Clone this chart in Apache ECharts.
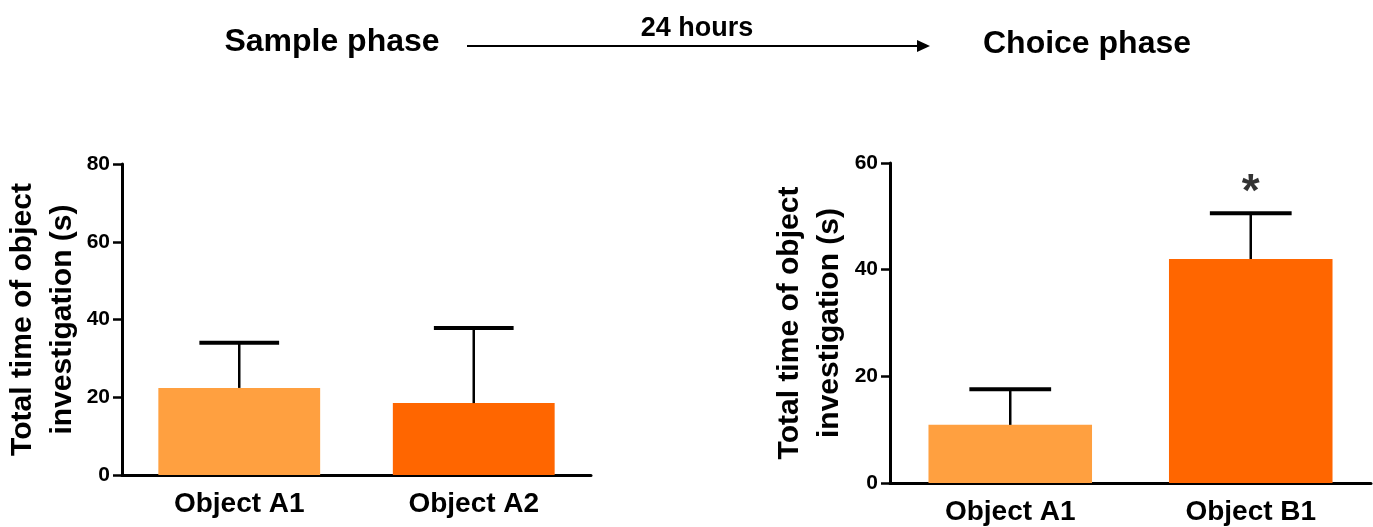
<!DOCTYPE html>
<html><head><meta charset="utf-8">
<script src="https://cdn.jsdelivr.net/npm/echarts@6/dist/echarts.min.js"></script>
<style>html,body{margin:0;padding:0;background:#fff}#c{width:1373px;height:527px}</style>
</head><body><div id="c"></div>
<script>
// Sample phase
const sampleCats = ['Object A1', 'Object A2'];
const sampleMeans = [22.4, 18.5];
const sampleUpper = [34.0, 37.8];
const sampleTicks = [0, 20, 40, 60, 80];
// Choice phase
const choiceCats = ['Object A1', 'Object B1'];
const choiceMeans = [10.9, 42.0];
const choiceUpper = [17.6, 50.6];
const choiceTicks = [0, 20, 40, 60];
const sigMarks = ['', '*'];
const sigLevel = [null, 56.2];

const barColors = ['#FFA040', '#FF6600'];
const F = '"Liberation Sans", Arial, sans-serif';
const yName = 'Total time of object\ninvestigation (s)';

function errSeries(cats, upper, means, xi, yi) {
  return {
    type: 'custom', xAxisIndex: xi, yAxisIndex: yi, z: 5,
    data: cats.map((c, i) => [i, means[i], upper[i]]),
    renderItem: function (params, api) {
      const b = api.coord([api.value(0), api.value(1)]);
      const t = api.coord([api.value(0), api.value(2)]);
      const w = api.size([1, 0])[0] * 0.34;
      return {
        type: 'group', children: [
          { type: 'line', shape: { x1: t[0], y1: b[1], x2: t[0], y2: t[1] }, style: { stroke: '#000', lineWidth: 2.5 } },
          { type: 'line', shape: { x1: t[0] - w / 2, y1: t[1], x2: t[0] + w / 2, y2: t[1] }, style: { stroke: '#000', lineWidth: 4 } }
        ]
      };
    }
  };
}

function yAxis(gi, ticks, gap) {
  return {
    type: 'value', gridIndex: gi, min: ticks[0], max: ticks[ticks.length - 1],
    interval: ticks[1] - ticks[0],
    splitLine: { show: false },
    axisLine: { show: true, lineStyle: { color: '#000', width: 3 } },
    axisTick: { show: true, length: 9, lineStyle: { color: '#000', width: 2.5 } },
    axisLabel: { color: '#000', fontFamily: F, fontWeight: 'bold', fontSize: 21, margin: 12 },
    name: yName, nameLocation: 'middle', nameRotate: 90, nameGap: gap,
    nameTextStyle: { color: '#000', fontFamily: F, fontWeight: 'bold', fontSize: 30, lineHeight: 40, align: 'center' }
  };
}
function xAxis(gi, cats) {
  return {
    type: 'category', gridIndex: gi, data: cats,
    axisLine: { show: true, lineStyle: { color: '#000', width: 3 } },
    axisTick: { show: false },
    axisLabel: { color: '#000', fontFamily: F, fontWeight: 'bold', fontSize: 28, margin: 15 }
  };
}

const chart = echarts.init(document.getElementById('c'), null, { renderer: 'canvas' });
chart.setOption({
  animation: false,
  backgroundColor: '#fff',
  title: [
    { text: 'Sample phase', left: 327, top: 21, textAlign: 'center', textStyle: { fontFamily: F, fontWeight: 'bold', fontSize: 32, color: '#000' } },
    { text: '24 hours', left: 692, top: 10, textAlign: 'center', textStyle: { fontFamily: F, fontWeight: 'bold', fontSize: 27, color: '#000' } },
    { text: 'Choice phase', left: 1082, top: 23, textAlign: 'center', textStyle: { fontFamily: F, fontWeight: 'bold', fontSize: 32, color: '#000' } }
  ],
  graphic: [
    { type: 'line', shape: { x1: 467, y1: 46, x2: 920, y2: 46 }, style: { stroke: '#000', lineWidth: 2 } },
    { type: 'polygon', shape: { points: [[917, 40], [930, 46], [917, 52]] }, style: { fill: '#000' } }
  ],
  grid: [
    { left: 122, top: 164, width: 469, height: 311, outerBoundsMode: 'none', containLabel: false },
    { left: 890, top: 163, width: 481, height: 320, outerBoundsMode: 'none', containLabel: false }
  ],
  xAxis: [xAxis(0, sampleCats), xAxis(1, choiceCats)],
  yAxis: [yAxis(0, sampleTicks, 32), yAxis(1, choiceTicks, 40)],
  series: [
    { type: 'bar', xAxisIndex: 0, yAxisIndex: 0, barWidth: '69%',
      data: sampleMeans.map((v, i) => ({ value: v, itemStyle: { color: barColors[i] } })) },
    errSeries(sampleCats, sampleUpper, sampleMeans, 0, 0),
    { type: 'bar', xAxisIndex: 1, yAxisIndex: 1, barWidth: '68%',
      data: choiceMeans.map((v, i) => ({ value: v, itemStyle: { color: barColors[i] } })) },
    errSeries(choiceCats, choiceUpper, choiceMeans, 1, 1),
    { type: 'scatter', xAxisIndex: 1, yAxisIndex: 1, symbolSize: 0, z: 6,
      data: sigLevel.map((v, i) => [i, v]),
      label: { show: true, position: 'inside', formatter: p => sigMarks[p.dataIndex], color: '#000', fontFamily: F, fontWeight: 'bold', fontSize: 46, offset: [0, 10] } }
  ]
});
</script></body></html>
